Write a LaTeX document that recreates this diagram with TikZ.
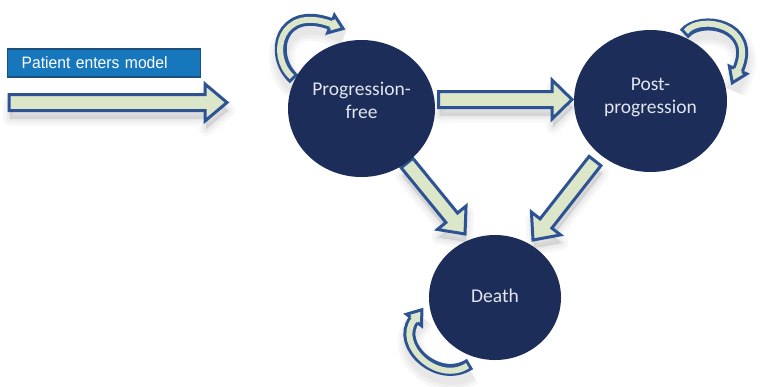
\documentclass[tikz,border=0pt]{standalone}
\usepackage{fontspec}
\setmainfont{Carlito}
\newfontfamily\labfont[FakeStretch=0.95]{Liberation Sans}
\usetikzlibrary{calc,shapes.geometric}
\definecolor{navy}{HTML}{1C2D5A}
\definecolor{arrowblue}{HTML}{2E5395}
\definecolor{arrowfill}{HTML}{DCE6C8}
\definecolor{boxblue}{HTML}{1777BD}
\definecolor{boxedge}{HTML}{1D4F7E}
\definecolor{txt}{HTML}{E3E6EE}
\tikzset{
  barrow/.style={draw=arrowblue, fill=arrowfill, line width=3pt, line join=miter},
  softshadow/.style={fill=black, draw=black, opacity=0.03, line join=round,
    transform canvas={xshift=1pt, yshift=-8pt}},
  statecirc/.style={ellipse, fill=navy, draw=none, inner sep=0pt},
  statetext/.style={text=txt, align=center, inner sep=0pt,
    font=\fontsize{19.5}{23}\selectfont},
  labbox/.style={rectangle, fill=boxblue, draw=boxedge, line width=1.2pt, text=white,
    font=\labfont\fontsize{16.5}{18}\selectfont, align=left, inner ysep=0pt}
}
\newcommand{\barpath}[5]{($(#1)!#3pt!90:(#2)$) -- ($(bC)!#3pt!90:(#2)$) -- ($(bC)!#4pt!90:(#2)$) -- (#2)
    -- ($(bC)!#4pt!-90:(#2)$) -- ($(bC)!#3pt!-90:(#2)$) -- ($(#1)!#3pt!-90:(#2)$) -- cycle}
\newcommand{\blockarr}[5]{%
  \coordinate (bC) at ($(#2)!#5pt!(#1)$);
  \foreach \lw in {14,8,3}{\filldraw[softshadow, line width=\lw pt] \barpath{#1}{#2}{#3}{#4}{#5};}
  \draw[barrow] \barpath{#1}{#2}{#3}{#4}{#5};}
\newcommand{\looparr}[5]{%
  \foreach \lw in {26,20,14}{\draw[softshadow, fill=none, line width=\lw pt] (#1) .. controls (#2) and (#3) .. (#4) -- (#5);}
  \draw[arrowblue, line width=12pt] (#1) .. controls (#2) and (#3) .. (#4);
  \draw[arrowfill, line width=6pt, shorten <=3pt] (#1) .. controls (#2) and (#3) .. (#4);
  \fill[arrowfill] ($(#4)!4.5pt!90:(#5)$) -- ($(#4)!9.5pt!90:(#5)$) -- (#5) -- ($(#4)!9.5pt!-90:(#5)$) -- ($(#4)!4.5pt!-90:(#5)$) -- cycle;
  \draw[arrowblue, line width=3pt, line join=miter] ($(#4)!4.5pt!90:(#5)$) -- ($(#4)!9.5pt!90:(#5)$) -- (#5) -- ($(#4)!9.5pt!-90:(#5)$) -- ($(#4)!4.5pt!-90:(#5)$);}
\begin{document}
\begin{tikzpicture}[x=1pt,y=-1pt]
\useasboundingbox (0,0) rectangle (765,386);
\fill[white] (0,0) rectangle (765,386);

% entry
\node[labbox, anchor=west, minimum width=193pt, minimum height=28pt, text width=165pt] (lab) at (7,63) {Patient enters model};
\coordinate (e1) at (9,102.5);
\coordinate (e2) at (227,102.5);
\blockarr{e1}{e2}{8}{18.5}{22}

% transitions
\coordinate (a1) at (438.5,99.5);
\coordinate (a2) at (572,99.5);
\blockarr{a1}{a2}{8}{19.5}{20}

\coordinate (b1) at (407,163);
\coordinate (b2) at (465,234);
\blockarr{b1}{b2}{7.5}{18.5}{21}

\coordinate (c1) at (595,161);
\coordinate (c2) at (533,240);
\blockarr{c1}{c2}{7.5}{18.5}{21}

% self loops
\coordinate (l1t) at (294,79);
\coordinate (l1a) at (268,55);
\coordinate (l1b) at (280,5);
\coordinate (l1c) at (331,24);
\coordinate (l1d) at (343,28.6);
\looparr{l1t}{l1a}{l1b}{l1c}{l1d}

\coordinate (l2t) at (684,34);
\coordinate (l2a) at (700,14);
\coordinate (l2b) at (758,25);
\coordinate (l2c) at (738,70);
\coordinate (l2d) at (732.3,82.8);
\looparr{l2t}{l2a}{l2b}{l2c}{l2d}

\coordinate (l3t) at (470,364);
\coordinate (l3a) at (438,385);
\coordinate (l3b) at (395,345);
\coordinate (l3c) at (414,320);
\coordinate (l3d) at (421.9,309.7);
\looparr{l3t}{l3a}{l3b}{l3c}{l3d}

% states (drawn over the arrow shadows)
\node[statecirc, minimum width=147pt, minimum height=137pt,
  label={[statetext, yshift=8.5pt]center:Progression-\\free}] (pf) at (361.5,108.5) {};
\node[statecirc, minimum width=153pt, minimum height=142pt,
  label={[statetext, yshift=4pt]center:Post-\\progression}] (pp) at (650.5,101) {};
\node[statecirc, minimum width=132pt, minimum height=125pt,
  label={[statetext, yshift=2pt]center:Death}] (de) at (495,297.5) {};
\end{tikzpicture}
\end{document}
